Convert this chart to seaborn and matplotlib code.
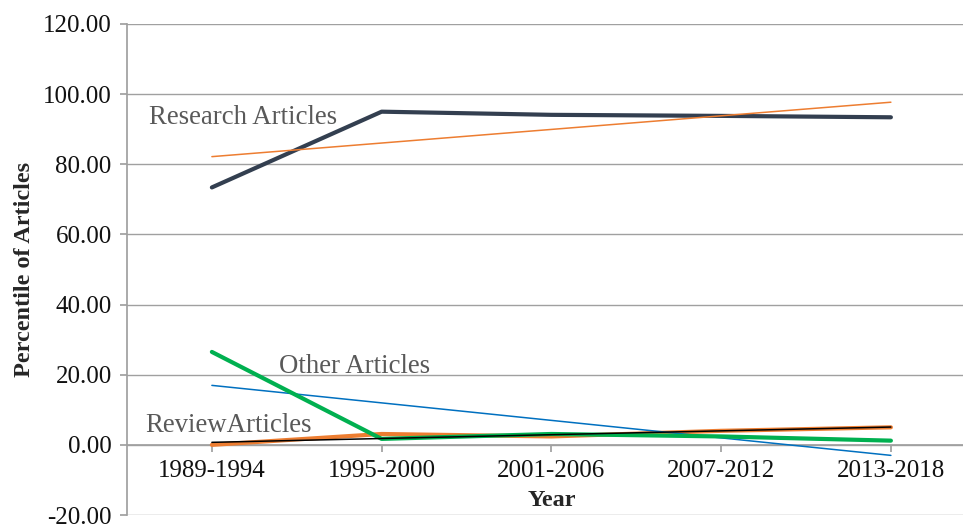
import matplotlib
matplotlib.use("Agg")
import matplotlib.pyplot as plt
import seaborn as sns
import numpy as np
import pandas as pd

categories = ["1989-1994", "1995-2000", "2001-2006", "2007-2012", "2013-2018"]
research = [73.4, 95.0, 94.1, 93.8, 93.4]
review = [0.0, 3.1, 2.4, 4.0, 5.0]
other = [26.5, 1.7, 3.1, 2.4, 1.2]
yticks = [-20, 0, 20, 40, 60, 80, 100, 120]

sns.set_theme(style="white")
plt.rcParams["font.family"] = ["Liberation Serif", "DejaVu Serif"]

fig = plt.figure(figsize=(9.63, 5.25), dpi=100)
ax = fig.add_axes([127 / 963, 10 / 525, 1 - 127 / 963, (515 - 24) / 525])

pos = np.arange(len(categories))
df = pd.DataFrame({"pos": pos, "research": research, "review": review, "other": other})

grid_c = "#a0a0a0"
for y in yticks:
    ax.axhline(y, color=grid_c, lw=1.0, zorder=0)

sns.lineplot(data=df, x="pos", y="research", ax=ax, color="#333f50", lw=3.0, zorder=3)
sns.lineplot(data=df, x="pos", y="review", ax=ax, color="#ed7d31", lw=3.0, zorder=3)
sns.regplot(data=df, x="pos", y="research", ax=ax, scatter=False, ci=None,
            line_kws=dict(color="#ed7d31", lw=1.1, zorder=4))
sns.regplot(data=df, x="pos", y="other", ax=ax, scatter=False, ci=None,
            line_kws=dict(color="#0070c0", lw=1.1, zorder=4))
sns.lineplot(data=df, x="pos", y="other", ax=ax, color="#00b050", lw=3.0, zorder=5)
sns.regplot(data=df, x="pos", y="review", ax=ax, scatter=False, ci=None,
            line_kws=dict(color="#000000", lw=1.1, zorder=6))

for s in ["top", "right"]:
    ax.spines[s].set_visible(False)
ax.spines["left"].set_color(grid_c)
ax.spines["bottom"].set_color(grid_c)
ax.spines["bottom"].set_position(("data", 0))

ax.set_xlim(-0.5, (963 - 213) / 169.5)
ax.set_ylim(-20, 120)
ax.set_yticks(yticks)
ax.set_yticklabels([f"{v:.2f}" for v in yticks])
ax.set_xticks(pos)
ax.set_xticklabels(categories)
ax.tick_params(axis="y", which="both", left=True, length=5, color=grid_c, pad=6,
               labelsize=18, labelcolor="#111111")
ax.tick_params(axis="x", which="both", bottom=True, length=5, color=grid_c, pad=6,
               labelsize=18, labelcolor="#111111")

ax.set_ylabel("Percentile of Articles", fontsize=17.5, fontweight="bold", labelpad=6)
ax.set_xlabel("Year", fontsize=17.5, fontweight="bold")
ax.xaxis.set_label_coords((552 - 127) / 836, (515 - 500) / 491)
ax.xaxis.label.set_va("center")

txt_c = "#595959"
ax.text(-0.372, 93.4, "Research Articles", fontsize=19.3, color=txt_c, va="center", ha="left", zorder=7)
ax.text(0.395, 22.2, "Other Articles", fontsize=19.3, color=txt_c, va="center", ha="left", zorder=7)
ax.text(-0.395, 5.4, "ReviewArticles", fontsize=19.3, color=txt_c, va="center", ha="left", zorder=7)

fig.savefig("out.png", dpi=100)
